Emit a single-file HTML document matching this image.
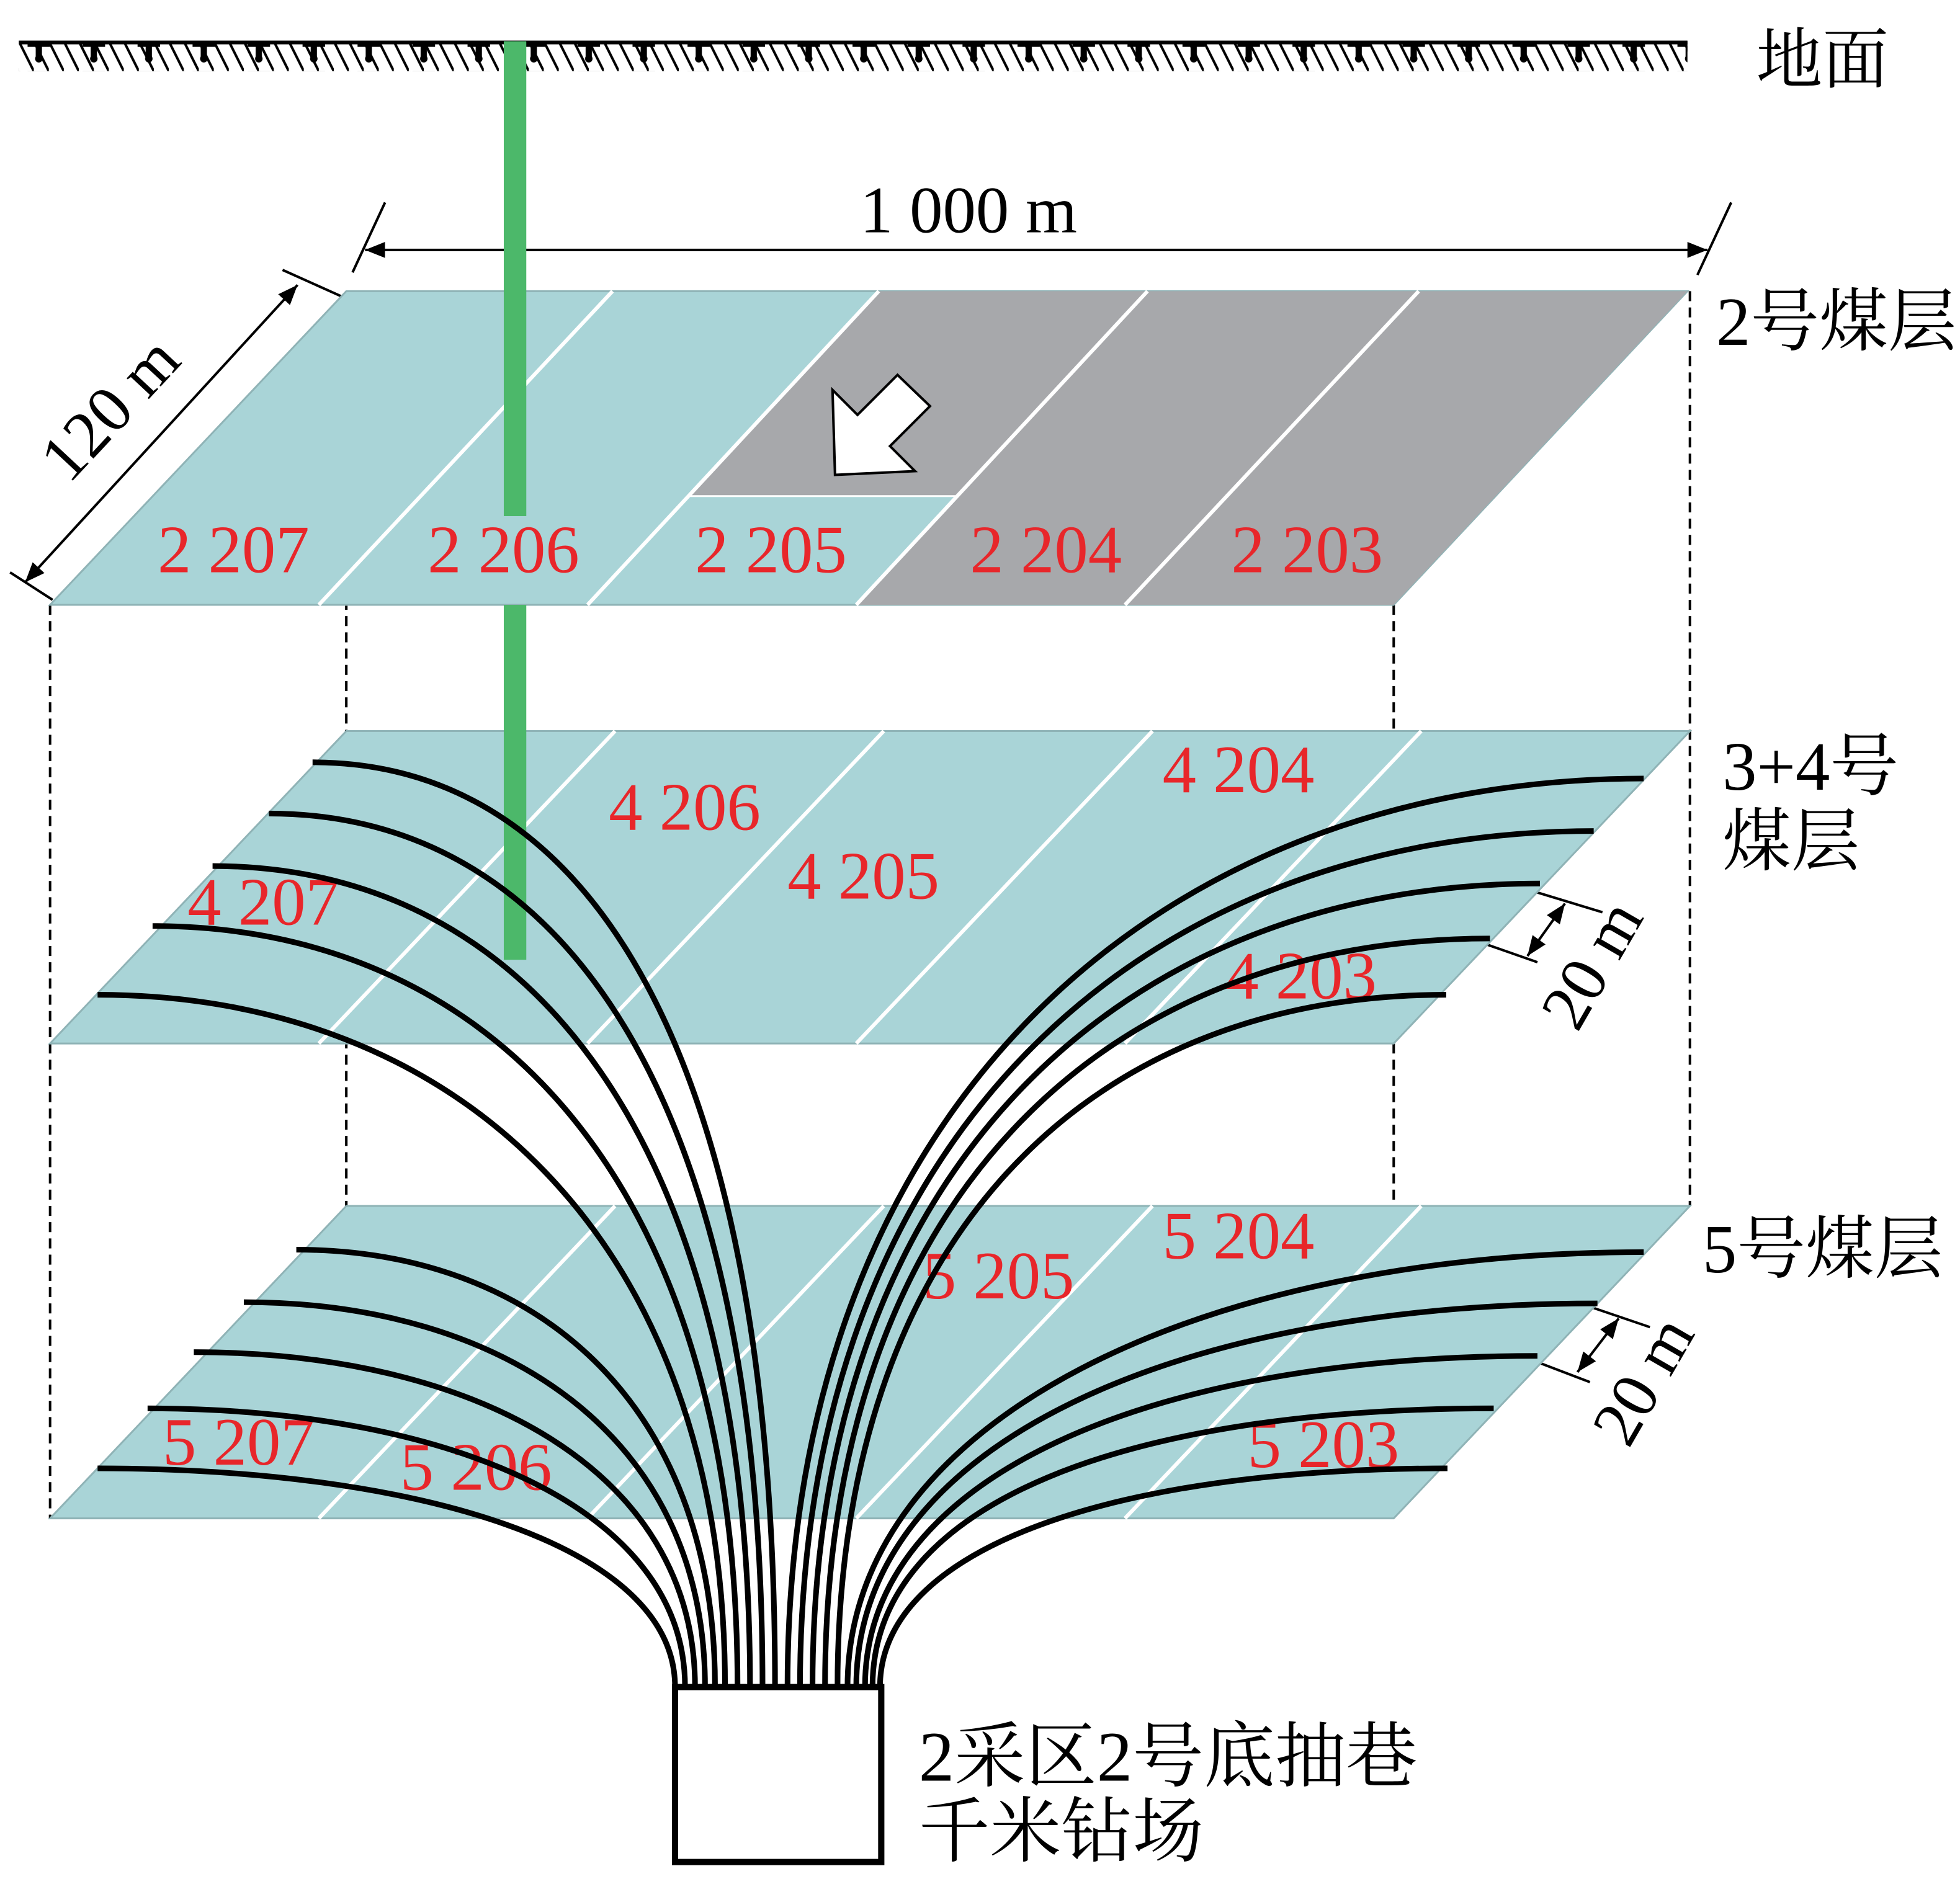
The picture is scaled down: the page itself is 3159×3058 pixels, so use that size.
<!DOCTYPE html>
<html><head><meta charset="utf-8"><style>
html,body{margin:0;padding:0;background:#fff}
svg{display:block}
</style></head><body>
<svg width="3159" height="3058" viewBox="0 0 1568 1518" xmlns="http://www.w3.org/2000/svg">
<defs>
<pattern id="hatch" x="15" y="33" width="12" height="24" patternUnits="userSpaceOnUse">
<line x1="0" y1="0" x2="12" y2="24" stroke="#000" stroke-width="2"/>
</pattern>
<pattern id="tees" x="20" y="33" width="44" height="24" patternUnits="userSpaceOnUse">
<path d="M2 2 H20 M11 2 V14" stroke="#000" stroke-width="5"/>
<circle cx="11" cy="14" r="3"/>
</pattern>
<marker id="ar" viewBox="0 0 10 10" refX="10" refY="5" markerWidth="8" markerHeight="8" orient="auto-start-reverse"><path d="M0,1 L10,5 L0,9 Z" fill="#000"/></marker>
</defs>
<rect x="15" y="33" width="1335" height="24" fill="url(#hatch)"/>
<rect x="15" y="33" width="1335" height="24" fill="url(#tees)"/>
<line x1="15" y1="34" x2="1350" y2="34" stroke="#000" stroke-width="3"/>
<g font-family="Liberation Serif, 'Noto Serif CJK SC', serif" font-size="55" fill="#000">
<text x="1405" y="66" font-size="53">地面</text>
<text x="1373" y="276">2号煤层</text>
<text x="1378" y="632">3+4号</text>
<text x="1378" y="692">煤层</text>
<text x="1362" y="1018">5号煤层</text>
<text x="735" y="1425" font-size="57">2采区2号底抽巷</text>
<text x="735" y="1485" font-size="57">千米钻场</text>
<text x="688" y="186" font-size="53">1 000 m</text>
<text transform="translate(55,388) rotate(-47)" font-size="53">120 m</text>
<text transform="translate(1262,827) rotate(-60)" font-size="53">20 m</text>
<text transform="translate(1303,1160) rotate(-60)" font-size="53">20 m</text>
</g>
<line x1="292" y1="200" x2="1366" y2="200" stroke="#000" stroke-width="2" marker-start="url(#ar)" marker-end="url(#ar)"/>
<line x1="308" y1="162" x2="282" y2="218" stroke="#000" stroke-width="2"/>
<line x1="1385" y1="162" x2="1358" y2="220" stroke="#000" stroke-width="2"/>
<line x1="20" y1="466" x2="238" y2="228" stroke="#000" stroke-width="2" marker-start="url(#ar)" marker-end="url(#ar)"/>
<line x1="8" y1="458" x2="42" y2="480" stroke="#000" stroke-width="2"/>
<line x1="226" y1="216" x2="275" y2="238" stroke="#000" stroke-width="2"/>
<line x1="1226" y1="713" x2="1282" y2="730" stroke="#000" stroke-width="2"/>
<line x1="1190" y1="756" x2="1230" y2="770" stroke="#000" stroke-width="2"/>
<line x1="1252" y1="723" x2="1222" y2="765" stroke="#000" stroke-width="2" marker-start="url(#ar)" marker-end="url(#ar)"/>
<line x1="1270" y1="1045" x2="1320" y2="1062" stroke="#000" stroke-width="2"/>
<line x1="1230" y1="1090" x2="1272" y2="1106" stroke="#000" stroke-width="2"/>
<line x1="1295" y1="1055" x2="1262" y2="1098" stroke="#000" stroke-width="2" marker-start="url(#ar)" marker-end="url(#ar)"/>
<g stroke="#000" stroke-width="2" stroke-dasharray="8,5">
<line x1="40" y1="484" x2="40" y2="1215"/>
<line x1="277" y1="233" x2="277" y2="965"/>
<line x1="1115" y1="484" x2="1115" y2="1215"/>
<line x1="1352" y1="233" x2="1352" y2="965"/>
</g>
<polygon points="277,233 1350,233 1115,484 40,484" fill="#a9d4d7" stroke="#8fb3b6" stroke-width="1.5"/>
<polygon points="703,233 1350,233 1115,484 685,484 766,397 551,397" fill="#a7a8ab"/>
<g stroke="#fff" stroke-width="3">
<line x1="490" y1="233" x2="255" y2="484"/><line x1="703" y1="233" x2="470" y2="484"/>
<line x1="918" y1="233" x2="685" y2="484"/><line x1="1135" y1="233" x2="900" y2="484"/>
</g>
<line x1="551" y1="397" x2="766" y2="397" stroke="#fff" stroke-width="1.5"/>
<rect x="403" y="33" width="18" height="380" fill="#4cb86a"/>
<polygon points="277,585 1352,585 1115,835 40,835" fill="#a9d4d7" stroke="#8fb3b6" stroke-width="1.5"/>
<g stroke="#fff" stroke-width="3">
<line x1="492" y1="585" x2="255" y2="835"/><line x1="707" y1="585" x2="470" y2="835"/>
<line x1="922" y1="585" x2="685" y2="835"/><line x1="1137" y1="585" x2="900" y2="835"/>
</g>
<rect x="403" y="484" width="18" height="284" fill="#4cb86a"/>
<polygon points="277,965 1352,965 1115,1215 40,1215" fill="#a9d4d7" stroke="#8fb3b6" stroke-width="1.5"/>
<g stroke="#fff" stroke-width="3">
<line x1="492" y1="965" x2="255" y2="1215"/><line x1="707" y1="965" x2="470" y2="1215"/>
<line x1="922" y1="965" x2="685" y2="1215"/><line x1="1137" y1="965" x2="900" y2="1215"/>
</g>
<polygon points="668,380 732,377 712,357 744,325 718,300 686,332 666,312" fill="#fff" stroke="#000" stroke-width="2"/>
<g font-family="Liberation Serif, serif" font-size="54" fill="#e8262a">
<text x="126" y="458">2 207</text><text x="342" y="458">2 206</text><text x="556" y="458">2 205</text>
<text x="776" y="458">2 204</text><text x="985" y="458">2 203</text>
<text x="150" y="740">4 207</text><text x="487" y="664">4 206</text><text x="630" y="719">4 205</text>
<text x="930" y="634">4 204</text><text x="980" y="799">4 203</text>
<text x="130" y="1172">5 207</text><text x="320" y="1192">5 206</text><text x="738" y="1039">5 205</text>
<text x="930" y="1007">5 204</text><text x="998" y="1174">5 203</text>
</g>
<g fill="none" stroke="#000" stroke-width="4.5">
<path d="M78,1175 C332,1175 540,1236 540,1350"/>
<path d="M118,1127 C355,1127 548,1205 548,1350"/>
<path d="M155,1082 C378,1082 556,1175 556,1350"/>
<path d="M195,1042 C402,1042 564,1148 564,1350"/>
<path d="M237,1000 C427,1000 572,1121 572,1350"/>
<path d="M78,796 C362,796 580,988 580,1350"/>
<path d="M122,741 C393,741 590,946 590,1350"/>
<path d="M170,693 C425,693 600,914 600,1350"/>
<path d="M215,651 C455,651 610,886 610,1350"/>
<path d="M250,610 C480,610 620,858 620,1350"/>
<path d="M1315,623 C935,623 630,877 630,1350"/>
<path d="M1275,665 C918,665 640,904 640,1350"/>
<path d="M1232,707 C900,707 650,932 650,1350"/>
<path d="M1192,751 C883,751 660,960 660,1350"/>
<path d="M1157,796 C869,796 670,992 670,1350"/>
<path d="M1315,1002 C963,1002 678,1135 678,1350"/>
<path d="M1278,1043 C947,1043 685,1153 685,1350"/>
<path d="M1230,1085 C923,1085 692,1180 692,1350"/>
<path d="M1195,1127 C906,1127 698,1200 698,1350"/>
<path d="M1158,1175 C887,1175 704,1240 704,1350"/>
</g>
<rect x="540" y="1350" width="165" height="140" fill="#fff" stroke="#000" stroke-width="5"/>
</svg>
</body></html>
